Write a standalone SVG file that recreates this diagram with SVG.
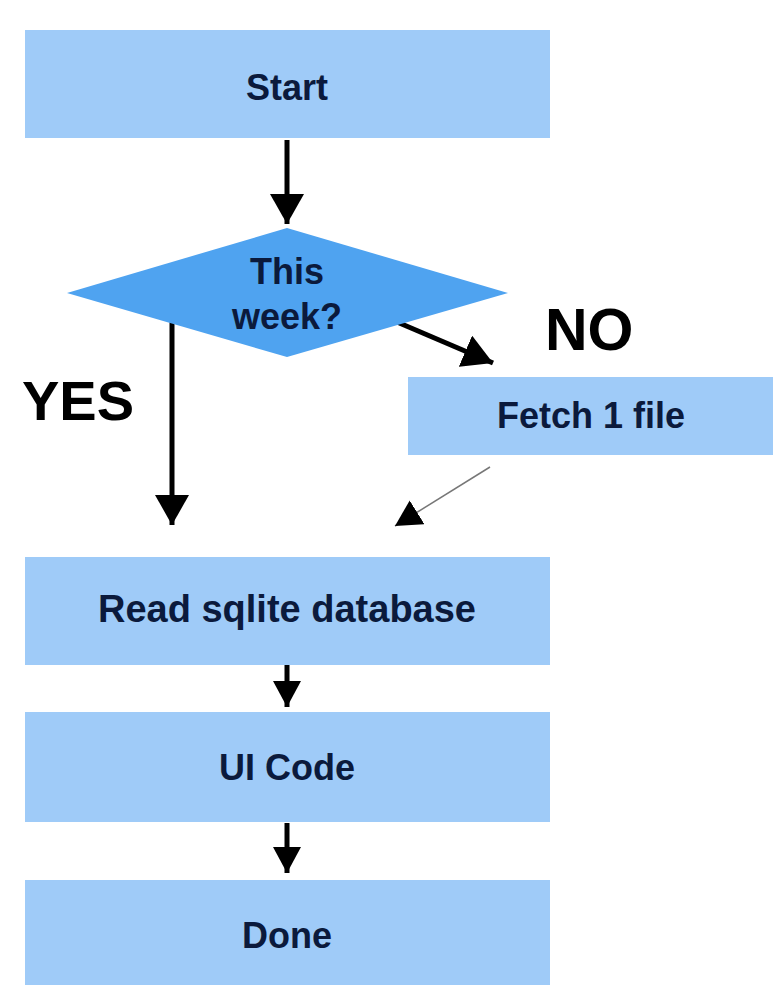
<svg xmlns="http://www.w3.org/2000/svg" width="773" height="985" viewBox="0 0 773 985">
<defs>
<style>
.box{fill:#9fcbf8;}
.dia{fill:#4fa3f0;}
.lbl{font-family:"Liberation Sans",Arial,sans-serif;font-weight:bold;fill:#0b1a3c;text-anchor:middle;}
.big{font-family:"Liberation Sans",Arial,sans-serif;font-weight:bold;fill:#000;}
.conn{stroke:#000;stroke-width:5;fill:none;}
.thin{stroke:#777;stroke-width:1.5;fill:none;}
</style>
<marker id="ah" markerUnits="userSpaceOnUse" markerWidth="34" markerHeight="34" viewBox="0 0 34 34" refX="30" refY="17" orient="auto">
<path d="M0,0 L30,17 L0,34 Z" fill="#000"/>
</marker>
<marker id="ahs" markerUnits="userSpaceOnUse" markerWidth="28" markerHeight="28" viewBox="0 0 28 28" refX="26" refY="14" orient="auto">
<path d="M0,0 L26,14 L0,28 Z" fill="#000"/>
</marker>
</defs>
<rect width="773" height="985" fill="#fff"/>
<g id="connectors">
<line class="conn" x1="287" y1="140" x2="287" y2="224" marker-end="url(#ah)"/>
<line class="conn" x1="172" y1="322" x2="172" y2="525" marker-end="url(#ah)"/>
<line class="conn" x1="397" y1="322" x2="493" y2="363" marker-end="url(#ah)"/>
<line class="thin" x1="490" y1="467" x2="395" y2="526" marker-end="url(#ahs)"/>
<line class="conn" x1="287" y1="665" x2="287" y2="707" marker-end="url(#ahs)"/>
<line class="conn" x1="287" y1="823" x2="287" y2="873" marker-end="url(#ahs)"/>
</g>
<g id="start">
<rect class="box" x="25" y="30" width="525" height="108"/>
<text class="lbl" x="287" y="100" font-size="36">Start</text>
</g>
<g id="decision">
<polygon class="dia" points="287,228 508,293 287,357 67,293"/>
<text class="lbl" x="287" y="284" font-size="36">This</text>
<text class="lbl" x="287" y="329" font-size="36">week?</text>
</g>
<g id="label-no">
<text class="big" x="545" y="350" font-size="59">NO</text>
</g>
<g id="label-yes">
<text class="big" x="22" y="420" font-size="56">YES</text>
</g>
<g id="fetch">
<rect class="box" x="408" y="377" width="365" height="78"/>
<text class="lbl" x="591" y="428" font-size="36">Fetch 1 file</text>
</g>
<g id="read">
<rect class="box" x="25" y="557" width="525" height="108"/>
<text class="lbl" x="287" y="622" font-size="38">Read sqlite database</text>
</g>
<g id="ui">
<rect class="box" x="25" y="712" width="525" height="110"/>
<text class="lbl" x="287" y="780" font-size="36">UI Code</text>
</g>
<g id="done">
<rect class="box" x="25" y="880" width="525" height="105"/>
<text class="lbl" x="287" y="948" font-size="36">Done</text>
</g>
</svg>
